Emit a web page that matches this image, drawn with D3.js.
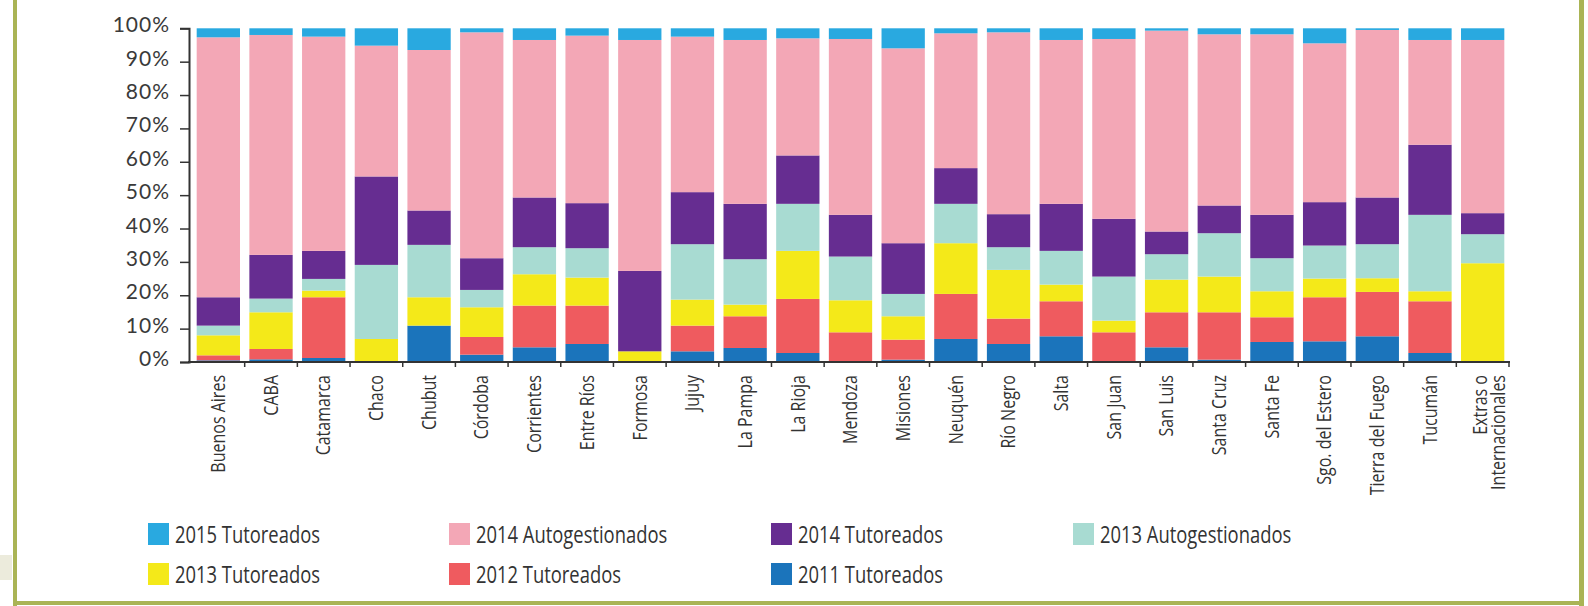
<!DOCTYPE html>
<html><head><meta charset="utf-8">
<script src="https://cdn.jsdelivr.net/npm/d3@7"></script>
<style>body{margin:0;background:#fff}svg{display:block}</style>
</head><body><svg id="c" width="1588" height="606"></svg>
<script>
const categories = ["Buenos Aires","CABA","Catamarca","Chaco","Chubut","Córdoba","Corrientes","Entre Ríos","Formosa","Jujuy","La Pampa","La Rioja","Mendoza","Misiones","Neuquén","Río Negro","Salta","San Juan","San Luis","Santa Cruz","Santa Fe","Sgo. del Estero","Tierra del Fuego","Tucumán","Extras o\nInternacionales"];

// values in % per category (stack order bottom -> top)
const tut2011  = [0.5,0.8,1.2,0,10.9,2.2,4.4,5.4,0,3.2,4.2,2.7,0,0.7,6.9,5.4,7.7,0,4.4,0.7,6.0,6.2,7.7,2.7,0];
const tut2012  = [1.5,3.1,18.2,0,0,5.3,12.5,11.5,0,7.7,9.5,16.2,8.9,6.0,13.5,7.6,10.5,8.9,10.5,14.2,7.4,13.2,13.3,15.5,0];
const tut2013  = [6,11,2.0,6.9,8.5,8.9,9.4,8.4,3.2,7.8,3.5,14.4,9.6,7.0,15.2,14.6,5.0,3.5,9.8,10.7,7.8,5.6,4.1,3.0,29.6];
const auto2013 = [2.9,4.1,3.5,22.2,15.7,5.2,8.1,8.8,0,16.6,13.6,14.1,13.1,6.7,11.8,6.8,10.1,13.2,7.6,13.0,9.9,9.9,10.2,22.9,8.7];
const tut2014  = [8.5,13.1,8.4,26.5,10.3,9.5,14.9,13.5,24.1,15.6,16.6,14.5,12.5,15.2,10.7,9.9,14.1,17.3,6.8,8.3,13.0,13.0,14.0,21.0,6.3];
const auto2014 = [77.9,65.9,64.2,39.2,48.1,67.7,47.2,50.2,69.2,46.6,49.1,35.1,52.7,58.4,40.4,54.5,49.1,53.9,60.2,51.3,54.1,47.6,50.2,31.4,51.9];
const tut2015  = [2.7,2.0,2.5,5.2,6.5,1.2,3.5,2.2,3.5,2.5,3.5,3.0,3.2,6.0,1.5,1.2,3.5,3.2,0.7,1.8,1.8,4.5,0.5,3.5,3.5];

const seriesKeys   = ["2011 Tutoreados","2012 Tutoreados","2013 Tutoreados","2013 Autogestionados","2014 Tutoreados","2014 Autogestionados","2015 Tutoreados"];
const seriesValues = [tut2011, tut2012, tut2013, auto2013, tut2014, auto2014, tut2015];
const seriesColors = ["#1b74bb","#ef5b5f","#f4e919","#a8dbd2","#662d91","#f3a7b6","#29a9e0"];
const legendOrder  = [["2015 Tutoreados","2014 Autogestionados","2014 Tutoreados","2013 Autogestionados"],
                      ["2013 Tutoreados","2012 Tutoreados","2011 Tutoreados"]];
const yTicks = [0,10,20,30,40,50,60,70,80,90,100];

const svg = d3.select("#c");

// frame
const frame = "#aab455";
svg.append("rect").attr("x",0).attr("y",555).attr("width",12).attr("height",25).attr("fill","#ecebdc");
svg.append("rect").attr("x",13).attr("y",0).attr("width",4).attr("height",606).attr("fill",frame);
svg.append("rect").attr("x",1579).attr("y",0).attr("width",5).attr("height",606).attr("fill",frame);
svg.append("rect").attr("x",13).attr("y",601).attr("width",1571).attr("height",4).attr("fill",frame);

const table = categories.map((c,i)=>{
  const o = {cat:c};
  seriesKeys.forEach((k,j)=>o[k]=seriesValues[j][i]);
  return o;
});
const stacked = d3.stack().keys(seriesKeys).offset(d3.stackOffsetExpand)(table);

const x = d3.scaleBand().domain(categories).range([192,1509]).paddingInner(0.178).paddingOuter(0.089);
const y = d3.scaleLinear().domain([0,1]).range([362,28.3]);
const color = d3.scaleOrdinal().domain(seriesKeys).range(seriesColors);

svg.append("g").selectAll("g").data(stacked).join("g")
  .attr("fill",d=>color(d.key))
  .selectAll("rect").data(d=>d).join("rect")
  .attr("x",d=>x(d.data.cat))
  .attr("width",x.bandwidth())
  .attr("y",d=>y(d[1]))
  .attr("height",d=>Math.max(0,y(d[0])-y(d[1])));

// y axis
const axisColor = "#333";
const yAxis = d3.axisLeft(y).tickValues(yTicks.map(v=>v/100)).tickSize(9).tickFormat(d=>Math.round(d*100)+"%");
const gy = svg.append("g").attr("transform","translate(189,0)").call(yAxis);
gy.select(".domain").attr("stroke",axisColor).attr("stroke-width",2);
gy.selectAll(".tick line").attr("stroke",axisColor).attr("stroke-width",1.5);
gy.selectAll(".tick text").attr("x",-19).attr("dy",null).attr("y",-5)
  .attr("dominant-baseline","central")
  .attr("font-family","Lato, 'Open Sans', sans-serif").attr("font-size",21)
  .attr("letter-spacing",1).attr("fill","#3a3a3a");

// x axis
const step = x.step();
const x0 = x.range()[0];
const boundaries = d3.range(1, categories.length+1).map(i=>x0+i*step);
const gx = svg.append("g");
gx.append("line").attr("x1",188).attr("x2",1510).attr("y1",362).attr("y2",362)
  .attr("stroke",axisColor).attr("stroke-width",1.8);
gx.selectAll("line.t").data(boundaries).join("line").attr("class","t")
  .attr("x1",d=>d).attr("x2",d=>d).attr("y1",362).attr("y2",367)
  .attr("stroke",axisColor).attr("stroke-width",1.5);

const labels = gx.selectAll("g.lab").data(categories).join("g").attr("class","lab")
  .attr("transform",d=>`translate(${x(d)+x.bandwidth()/2},375) rotate(-90)`);
labels.each(function(d){
  const lines = d.split("\n");
  const g = d3.select(this);
  const offs = lines.length===1 ? [-1] : [-3,15];
  lines.forEach((ln,k)=>{
    g.append("text").attr("transform",`translate(0,${offs[k]}) scale(0.8,1)`)
      .attr("text-anchor","end").attr("dominant-baseline","central")
      .attr("font-family","'Open Sans', sans-serif").attr("font-size",20)
      .attr("fill","#333").text(ln);
  });
});

// legend
const colX = [148,449,771,1073];
const rowY = [523,563];
legendOrder.forEach((row,r)=>{
  row.forEach((key,c)=>{
    const g = svg.append("g").attr("transform",`translate(${colX[c]},${rowY[r]})`);
    g.append("rect").attr("width",21).attr("height",22).attr("fill",color(key));
    g.append("text").attr("transform","translate(27,20) scale(0.8,1)")
      .attr("font-family","'Open Sans', sans-serif").attr("font-size",23)
      .attr("fill","#333").text(key);
  });
});
</script>
</body></html>
